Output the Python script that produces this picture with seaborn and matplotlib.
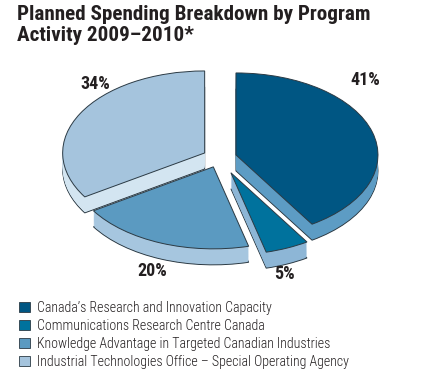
import numpy as np
import matplotlib
matplotlib.use('Agg')
import matplotlib.pyplot as plt
from matplotlib.patches import Patch
import seaborn as sns

#%% data
categories = ["Canada\u2019s Research and Innovation Capacity",
              "Communications Research Centre Canada",
              "Knowledge Advantage in Targeted Canadian Industries",
              "Industrial Technologies Office \u2013 Special Operating Agency"]
shares = [41, 5, 20, 34]
pct_labels = ["41%", "5%", "20%", "34%"]

top_colors = ['#005683', '#00729d', '#5b9ac1', '#a5c4dd']
side_colors = ['#5d9cc4', '#8db6d6', '#a6c6df', '#d3e5f1']
explode = [0.12, 0.2, 0.12, 0.12]

sns.set_theme(style='white')
plt.rcParams['font.family'] = ['Roboto Condensed', 'Liberation Sans Narrow', 'DejaVu Sans']
plt.rcParams['font.stretch'] = 'condensed'

W, H = 440, 369
fig = plt.figure(figsize=(W / 100, H / 100), dpi=100)
ax = fig.add_axes([0, 0, 1, 1])

# pie centre / radii in pixels (image coords, y down)
cx, cy = 219.6, 157.7
rx, ry = 142.0, 82.0
depth = 16.0 / ry

edge = dict(edgecolor='#2b3a44', linewidth=0.7)

# side (extrusion) - stacked copies going down
steps = np.linspace(depth, 0, 16)
for i, d in enumerate(steps[:-1]):
    wp = dict(edge) if i == 0 else dict(edgecolor='none', linewidth=0)
    ax.pie(shares, colors=side_colors, startangle=90, counterclock=False,
           explode=explode, center=(0, -d), wedgeprops=wp)

# top face
ax.pie(shares, colors=top_colors, startangle=90, counterclock=False,
       explode=explode, center=(0, 0), wedgeprops=edge)

ax.set_aspect('auto')
ax.set_xlim(-cx / rx, (W - cx) / rx)
ax.set_ylim(-(H - cy) / ry, cy / ry)
ax.axis('off')

# percentage labels
lab_pos = [(365, 80), (284, 274), (152, 271), (95, 84)]
for (px, py), t in zip(lab_pos, pct_labels):
    fig.text(px / W, 1 - py / H, t, ha='center', va='center',
             fontsize=13, fontweight='bold', color='#231f20')

fig.text(17 / W, 1 - 5 / H, "Planned Spending Breakdown by Program\nActivity 2009\u20132010*",
         ha='left', va='top', fontsize=15.2, fontweight='bold', color='#231f20',
         linespacing=1.12)

handles = [Patch(facecolor=c, edgecolor='#2b3a44', linewidth=0.6) for c in top_colors]
fig.legend(handles, categories, loc='upper left', bbox_to_anchor=(19 / W, 1 - 301 / H),
           frameon=False, prop=dict(size=10, weight='light', stretch='condensed'),
           handlelength=0.78, handleheight=0.78,
           handletextpad=0.55, labelspacing=0.28, borderpad=0, borderaxespad=0,
           labelcolor='#231f20')

fig.savefig('out.png', dpi=100)
